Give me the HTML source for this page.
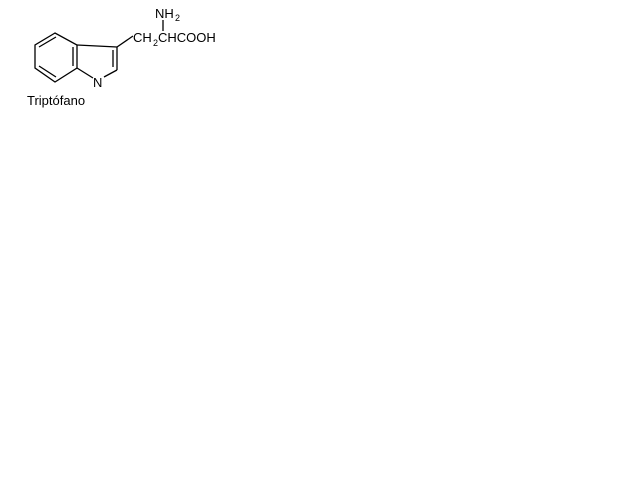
<!DOCTYPE html>
<html><head><style>
body{margin:0;background:#fff;width:640px;height:480px;overflow:hidden}
svg{position:absolute;left:0;top:0}
text{font-family:"Liberation Sans",sans-serif;font-size:13px;fill:#000}
</style></head><body>
<svg width="640" height="480">
<g stroke="#000" stroke-width="1.3" fill="none">
<polygon points="55,33 35,45 35,68 55,82 77,68 77,45"/>
<line x1="39" y1="47" x2="56" y2="37"/>
<line x1="39" y1="66" x2="56" y2="77"/>
<line x1="73" y1="47" x2="73" y2="66"/>
<line x1="77" y1="45" x2="117" y2="47"/>
<line x1="117" y1="47" x2="117" y2="70"/>
<line x1="113" y1="50" x2="113" y2="67"/>
<line x1="117" y1="70" x2="104" y2="77"/>
<line x1="77" y1="68" x2="93" y2="78"/>
<line x1="117" y1="47" x2="133" y2="36"/>
<line x1="163" y1="20" x2="163" y2="31"/>
</g>
<text x="93" y="87">N</text>
<text x="133" y="42">CH</text>
<text x="153" y="46" style="font-size:9px">2</text>
<text x="158" y="42">CHCOOH</text>
<text x="155" y="18">NH</text>
<text x="175" y="21" style="font-size:9px">2</text>
<text x="27" y="105" style="font-size:13px">Triptófano</text>
</svg>
</body></html>
